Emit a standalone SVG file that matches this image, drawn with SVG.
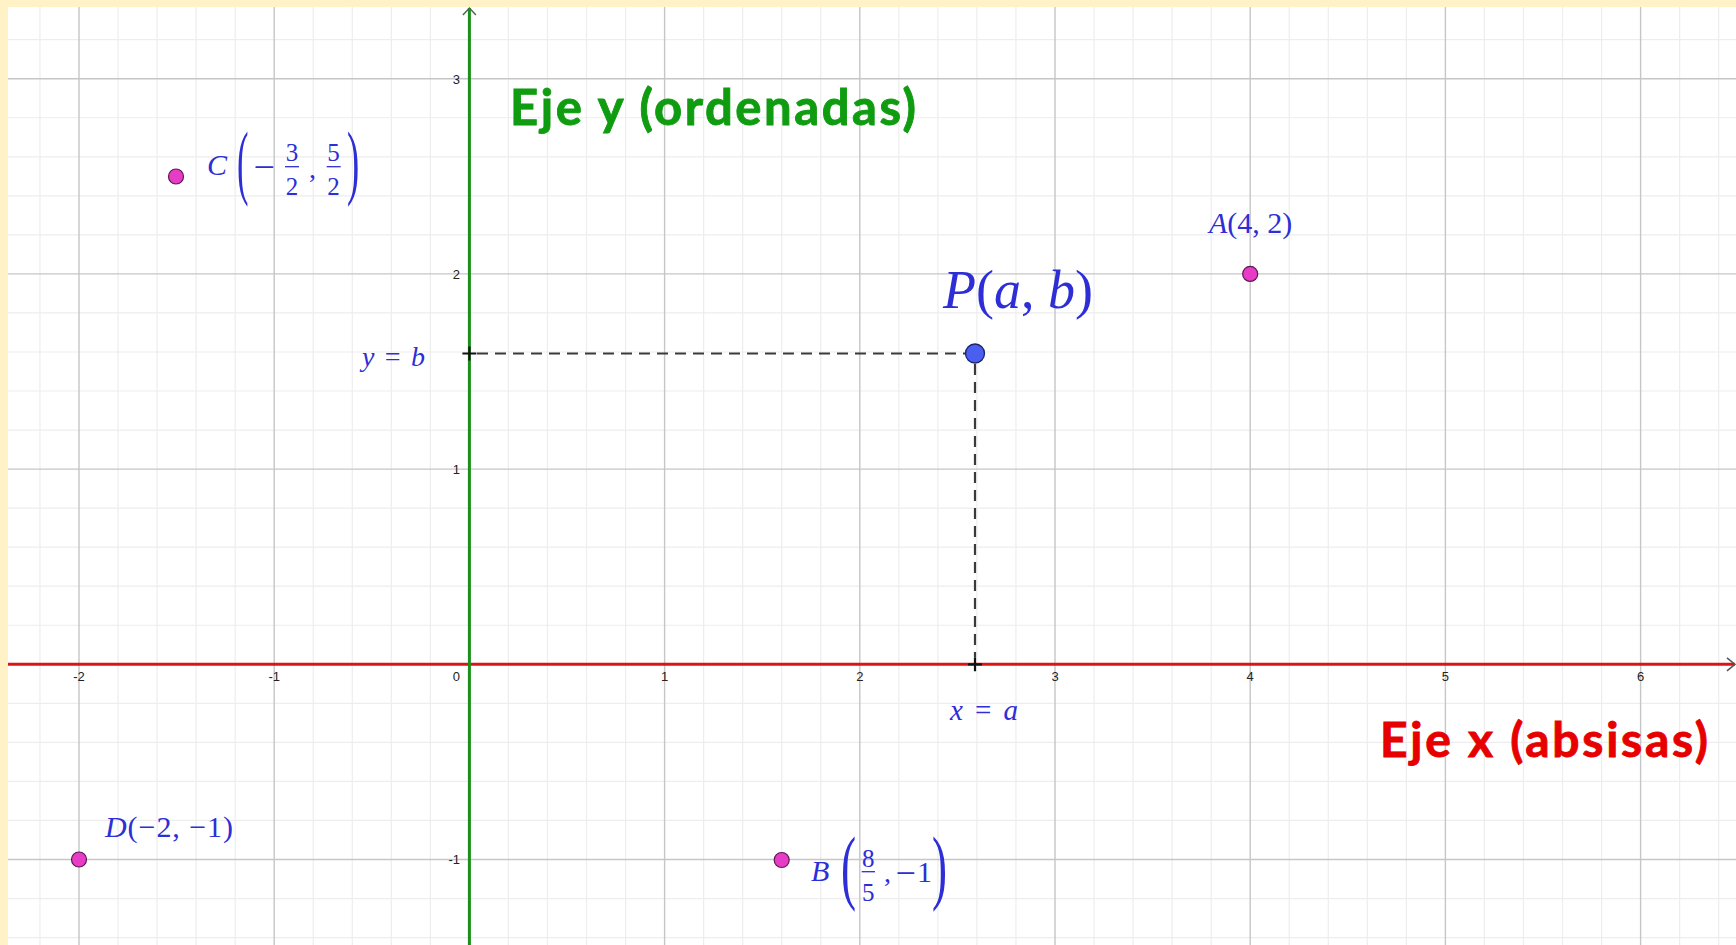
<svg xmlns="http://www.w3.org/2000/svg" width="1736" height="945" viewBox="0 0 1736 945">
<defs>
<style>
.minor{stroke:#ededed;stroke-width:1.2;fill:none}
.major{stroke:#c6c6c6;stroke-width:1.4;fill:none}
.tick{font-family:"Liberation Sans",Arial,sans-serif;font-size:13px;fill:#222}
.tx{text-anchor:middle}
.ty{text-anchor:end}
.m{font-family:"Liberation Serif","Times New Roman",serif;fill:#2e2ed6}
.it{font-style:italic}
.fr{font-size:25px;text-anchor:middle}
.bar{stroke:#2e2ed6;stroke-width:1.3}
.pt{fill:#e63cc6;stroke:#5e1850;stroke-width:1.2}
.ptP{fill:#4a5ef0;stroke:#1b2470;stroke-width:1.3}
.dash{stroke:#3a3a3a;stroke-width:2.2;stroke-dasharray:11 7;fill:none}
.cross{stroke:#111;stroke-width:2.2}
.title{font-family:Lato,"Liberation Sans",Arial,sans-serif;font-weight:bold;stroke-width:0.9}
</style>
<clipPath id="plot"><rect x="8" y="7" width="1728" height="938"/></clipPath>
</defs>
<rect x="0" y="0" width="1736" height="945" fill="#fff2c6"/>
<rect x="8" y="7" width="1728" height="938" fill="#ffffff"/>
<g id="grid" clip-path="url(#plot)">
<g class="minor">
<path d="M39.96 7V945M118.04 7V945M157.08 7V945M196.12 7V945M235.16 7V945M313.24 7V945M352.28 7V945M391.32 7V945M430.36 7V945M508.44 7V945M547.48 7V945M586.52 7V945M625.56 7V945M703.64 7V945M742.68 7V945M781.72 7V945M820.76 7V945M898.84 7V945M937.88 7V945M976.92 7V945M1015.96 7V945M1094.04 7V945M1133.08 7V945M1172.12 7V945M1211.16 7V945M1289.24 7V945M1328.28 7V945M1367.32 7V945M1406.36 7V945M1484.44 7V945M1523.48 7V945M1562.52 7V945M1601.56 7V945M1679.64 7V945M1718.68 7V945"/>
<path d="M8 39.66H1736M8 117.74H1736M8 156.78H1736M8 195.82H1736M8 234.86H1736M8 312.94H1736M8 351.98H1736M8 391.02H1736M8 430.06H1736M8 508.14H1736M8 547.18H1736M8 586.22H1736M8 625.26H1736M8 703.34H1736M8 742.38H1736M8 781.42H1736M8 820.46H1736M8 898.54H1736M8 937.58H1736"/>
</g>
<g class="major">
<path d="M79 7V945M274.2 7V945M664.6 7V945M859.8 7V945M1055 7V945M1250.2 7V945M1445.4 7V945M1640.6 7V945"/>
<path d="M8 78.7H1736M8 273.9H1736M8 469.1H1736M8 859.5H1736"/>
</g>
</g>
<g id="axes">
<line x1="8" y1="664.3" x2="1735" y2="664.3" stroke="#dc1414" stroke-width="3"/>
<polyline points="1727,657.8 1735,664.3 1727,670.8" fill="none" stroke="#555" stroke-width="1.5"/>
<line x1="469.4" y1="8" x2="469.4" y2="945" stroke="#1a901a" stroke-width="3"/>
<polyline points="462.9,15 469.4,8 475.9,15" fill="none" stroke="#4a6a4a" stroke-width="1.5"/>
<g class="tick tx">
<text x="79" y="681">-2</text>
<text x="274.2" y="681">-1</text>
<text x="664.6" y="681">1</text>
<text x="859.8" y="681">2</text>
<text x="1055" y="681">3</text>
<text x="1250.2" y="681">4</text>
<text x="1445.4" y="681">5</text>
<text x="1640.6" y="681">6</text>
</g>
<g class="tick ty">
<text x="460" y="83.5">3</text>
<text x="460" y="278.7">2</text>
<text x="460" y="473.9">1</text>
<text x="460" y="681">0</text>
<text x="460" y="864.3">-1</text>
</g>
</g>
<g id="connectors">
<line class="dash" x1="477" y1="353.5" x2="966" y2="353.5"/>
<line class="dash" x1="975" y1="364" x2="975" y2="657"/>
<path class="cross" d="M462.4 353.5H476.4M469.4 346.5V360.5"/>
<path class="cross" d="M968 664.3H982M975 657.3V671.3"/>
</g>
<g id="label-y">
<text class="title" x="510" y="125" font-size="49" fill="#109c10" stroke="#109c10" textLength="406" lengthAdjust="spacing">Eje y (ordenadas)</text>
</g>
<g id="label-x">
<text class="title" x="1380" y="757" font-size="48" fill="#e60000" stroke="#e60000" textLength="328" lengthAdjust="spacing">Eje x (absisas)</text>
</g>
<g id="P">
<circle class="ptP" cx="975" cy="353.5" r="9.5"/>
<text class="m" x="943" y="308" font-size="54"><tspan class="it">P</tspan>(<tspan class="it">a</tspan>, <tspan class="it">b</tspan>)</text>
</g>
<g id="yb">
<text class="m" x="362" y="366" font-size="28" textLength="63" lengthAdjust="spacing"><tspan class="it">y</tspan> = <tspan class="it">b</tspan></text>
</g>
<g id="xa">
<text class="m" x="950" y="720" font-size="29" textLength="68" lengthAdjust="spacing"><tspan class="it">x</tspan> = <tspan class="it">a</tspan></text>
</g>
<g id="A">
<circle class="pt" cx="1250.2" cy="273.9" r="7.5"/>
<text class="m" x="1209" y="233" font-size="30"><tspan class="it">A</tspan>(4, 2)</text>
</g>
<g id="D">
<circle class="pt" cx="79" cy="859.5" r="7.5"/>
<text class="m" x="105" y="837" font-size="30" textLength="128" lengthAdjust="spacing"><tspan class="it">D</tspan>(−2, −1)</text>
</g>
<g id="C">
<circle class="pt" cx="176" cy="176.5" r="7.5"/>
<text class="m it" x="207" y="175" font-size="30">C</text>
<text class="m" transform="translate(237,188.5) scale(0.42,1)" font-size="82">(</text>
<text class="m" x="253.5" y="179.5" font-size="38">−</text>
<text class="m fr" x="292" y="160.5">3</text>
<line class="bar" x1="285" y1="166.7" x2="299" y2="166.7"/>
<text class="m fr" x="292" y="194.5">2</text>
<text class="m" x="309" y="178" font-size="28">,</text>
<text class="m fr" x="333.5" y="160.5">5</text>
<line class="bar" x1="326.7" y1="166.7" x2="340.7" y2="166.7"/>
<text class="m fr" x="333.5" y="194.5">2</text>
<text class="m" transform="translate(347,188.5) scale(0.45,1)" font-size="82">)</text>
</g>
<g id="B">
<circle class="pt" cx="781.7" cy="860" r="7.5"/>
<text class="m it" x="811" y="880.5" font-size="30">B</text>
<text class="m" transform="translate(841,893.5) scale(0.55,1)" font-size="82">(</text>
<text class="m fr" x="868.3" y="867">8</text>
<line class="bar" x1="861.7" y1="871.7" x2="875" y2="871.7"/>
<text class="m fr" x="868.3" y="900.5">5</text>
<text class="m" x="884" y="882" font-size="28">,</text>
<text class="m" x="895.5" y="885" font-size="36">−</text>
<text class="m" x="917" y="882" font-size="30">1</text>
<text class="m" transform="translate(932,893.5) scale(0.55,1)" font-size="82">)</text>
</g>
</svg>
